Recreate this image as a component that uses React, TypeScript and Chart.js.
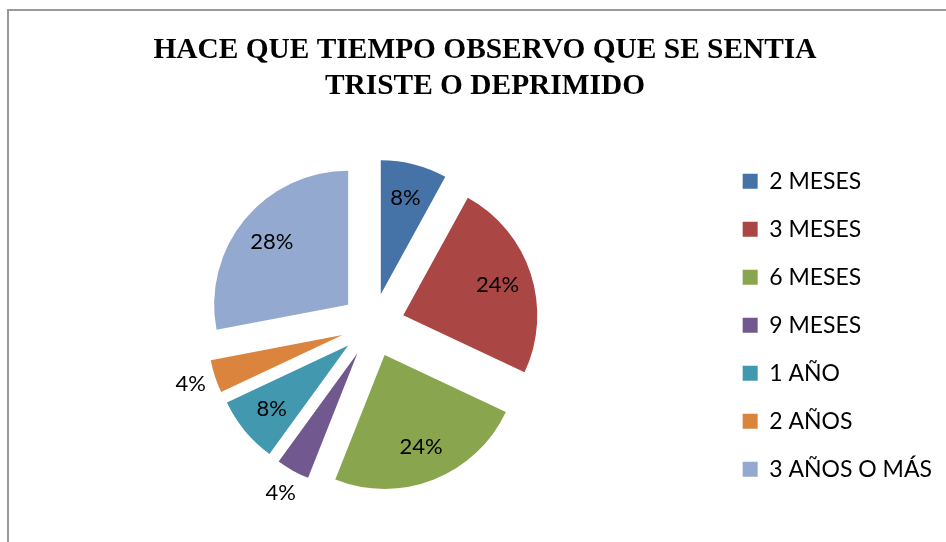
import React, { useEffect, useRef } from "react";
import { Chart, registerables } from "chart.js";

Chart.register(...registerables);

const categories = ["2 MESES", "3 MESES", "6 MESES", "9 MESES", "1 AÑO", "2 AÑOS", "3 AÑOS O MÁS"];
const values = [8, 24, 24, 4, 8, 4, 28];
const colors = ["#4572A7", "#AA4643", "#89A54E", "#71588F", "#4198AF", "#DB843D", "#93A9CF"];
const titleLines = ["HACE QUE TIEMPO OBSERVO QUE SE SENTIA", "TRISTE O DEPRIMIDO"];

const EXPLODE_DISTANCE = 32;
const PIE_RADIUS = 134;
const INSIDE_LABEL_POS = 0.74;
const OUTSIDE_LABEL_POS = 1.19;
const OUTSIDE_MAX_PCT = 4;

const explodePlugin = {
  id: "explodeSlices",
  afterDatasetUpdate(chart: any, args: any) {
    const meta = args.meta;
    meta.data.forEach((arc: any) => {
      const mid = (arc.startAngle + arc.endAngle) / 2;
      arc.x += Math.cos(mid) * EXPLODE_DISTANCE;
      arc.y += Math.sin(mid) * EXPLODE_DISTANCE;
    });
  },
};

const sliceLabelsPlugin = {
  id: "sliceLabels",
  afterDatasetsDraw(chart: any) {
    const meta = chart.getDatasetMeta(0);
    const data: number[] = chart.data.datasets[0].data;
    const total = data.reduce((a, b) => a + b, 0);
    const ctx = chart.ctx;
    ctx.save();
    ctx.font = "22px Lato";
    ctx.fillStyle = "#000";
    ctx.textAlign = "center";
    ctx.textBaseline = "middle";
    meta.data.forEach((arc: any, i: number) => {
      const pct = Math.round((data[i] / total) * 100);
      const mid = (arc.startAngle + arc.endAngle) / 2;
      const k = pct <= OUTSIDE_MAX_PCT ? OUTSIDE_LABEL_POS : INSIDE_LABEL_POS;
      const r = arc.outerRadius * k;
      ctx.fillText(pct + "%", arc.x + Math.cos(mid) * r, arc.y + Math.sin(mid) * r);
    });
    ctx.restore();
  },
};

export default function App() {
  const canvasRef = useRef<HTMLCanvasElement | null>(null);

  useEffect(() => {
    if (!canvasRef.current) return;
    const chart = new Chart(canvasRef.current, {
      type: "pie",
      data: {
        labels: categories,
        datasets: [
          {
            data: values,
            backgroundColor: colors,
            borderColor: colors,
            borderWidth: 0,
            radius: PIE_RADIUS,
            hoverOffset: 0,
          },
        ],
      },
      options: {
        responsive: true,
        maintainAspectRatio: false,
        animation: false,
        layout: { padding: { left: 28, right: 4, top: 10, bottom: 14 } },
        plugins: {
          title: {
            display: true,
            text: titleLines,
            color: "#000",
            font: { family: "'Liberation Serif', 'Times New Roman', serif", size: 29.4, weight: "bold", lineHeight: 1.23 },
            padding: { top: 22, bottom: 18 },
          },
          legend: {
            position: "right",
            fullSize: false,
            labels: {
              boxWidth: 15,
              boxHeight: 15,
              padding: 25,
              color: "#000",
              font: { family: "Lato", size: 23 },
            },
          },
          tooltip: { enabled: false },
        },
      },
      plugins: [explodePlugin, sliceLabelsPlugin],
    } as any);
    return () => chart.destroy();
  }, []);

  return (
    <div style={{ position: "fixed", left: 0, top: 0, width: 946, height: 542, overflow: "hidden", background: "#fff" }}>
      <div
        style={{
          position: "absolute",
          left: 7,
          top: 9,
          width: 1200,
          height: 800,
          borderLeft: "2px solid #9a9a9a",
          borderTop: "2px solid #9a9a9a",
        }}
      />
      <div style={{ position: "absolute", left: 0, top: 0, width: 946, height: 542 }}>
        <canvas ref={canvasRef} />
      </div>
    </div>
  );
}
